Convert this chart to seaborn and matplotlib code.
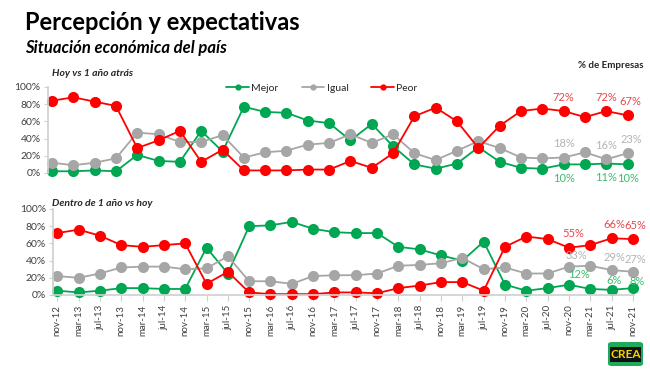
import numpy as np
import pandas as pd
import seaborn as sns
import matplotlib.pyplot as plt
from matplotlib.lines import Line2D
from matplotlib.patches import FancyBboxPatch

# data ---------------------------------------------
fechas = ['nov-12', 'mar-13', 'jul-13', 'nov-13', 'mar-14', 'jul-14', 'nov-14',
          'mar-15', 'jul-15', 'nov-15', 'mar-16', 'jul-16', 'nov-16', 'mar-17',
          'jul-17', 'nov-17', 'mar-18', 'jul-18', 'nov-18', 'mar-19', 'jul-19',
          'nov-19', 'mar-20', 'jul-20', 'nov-20', 'mar-21', 'jul-21', 'nov-21']
series = ['Mejor', 'Igual', 'Peor']

# Hoy vs 1 año atrás
hoy_mejor = [2, 2, 3, 2, 21, 14, 13, 49, 25, 77, 71, 70, 61, 58,
             38, 57, 31, 10, 5, 11, 30, 13, 6, 5, 10, 10, 11, 10]
hoy_igual = [12, 9, 12, 17, 47, 45, 36, 36, 44, 18, 24, 26, 33, 35,
             45, 35, 45, 23, 15, 26, 37, 29, 18, 17, 18, 24, 16, 23]
hoy_peor = [84, 88, 83, 78, 29, 38, 49, 13, 27, 3, 3, 3, 4, 4,
            14, 6, 23, 66, 76, 60, 29, 55, 72, 75, 72, 65, 72, 67]

# Dentro de 1 año vs hoy
fut_mejor = [5, 3, 5, 8, 8, 7, 7, 55, 25, 80, 81, 85, 77, 73,
             72, 72, 56, 53, 46, 40, 62, 12, 5, 8, 12, 7, 6, 8]
fut_igual = [22, 20, 25, 32, 33, 33, 30, 31, 45, 16, 16, 13, 22, 23,
             23, 25, 34, 35, 37, 43, 30, 32, 25, 25, 33, 34, 29, 27]
fut_peor = [72, 76, 69, 58, 56, 58, 60, 13, 27, 3, 1, 1, 1, 3,
            3, 2, 8, 11, 15, 15, 5, 56, 68, 65, 55, 58, 66, 65]

# etiquetas de valor: (serie, indice, dx, dy en puntos)
lab_hoy = [('Peor', 24, 0, 10), ('Peor', 26, 0, 10), ('Peor', 27, 2, 10),
           ('Igual', 24, 0, 10), ('Igual', 26, 0, 10), ('Igual', 27, 3, 10),
           ('Mejor', 24, 0, -10), ('Mejor', 26, 0, -10), ('Mejor', 27, 0, -10)]
lab_fut = [('Peor', 24, 3, 10), ('Peor', 26, 2, 10), ('Peor', 27, 2, 10),
           ('Igual', 24, 5, 8), ('Igual', 26, 2, 9), ('Igual', 27, 2, 9),
           ('Mejor', 24, 7, 7), ('Mejor', 26, 2, 7), ('Mejor', 27, 3, 5)]

palette = {'Mejor': '#00A651', 'Igual': '#A6A6A6', 'Peor': '#FF0000'}
label_col = {'Mejor': '#3DBB6E', 'Igual': '#B4B4B4', 'Peor': '#E8474C'}

sns.set_theme(style='white')
plt.rcParams['font.family'] = ['Lato', 'DejaVu Sans']

W, H = 650, 388
fig = plt.figure(figsize=(6.5, 3.88), dpi=100)
fig.patch.set_facecolor('white')
ax1 = fig.add_axes([47.7 / W, (H - 173) / H, 581 / W, 86 / H])
ax2 = fig.add_axes([53 / W, (H - 295) / H, 581 / W, 86 / H])


def to_long(m, i, p):
    df = pd.DataFrame({'idx': range(len(fechas)), 'Mejor': m, 'Igual': i, 'Peor': p})
    return df.melt(id_vars='idx', var_name='serie', value_name='pct')


for ax, df, labs in [(ax1, to_long(hoy_mejor, hoy_igual, hoy_peor), lab_hoy),
                     (ax2, to_long(fut_mejor, fut_igual, fut_peor), lab_fut)]:
    sns.lineplot(data=df, x='idx', y='pct', hue='serie', hue_order=series,
                 palette=palette, marker='o', markersize=8, markeredgewidth=0,
                 linewidth=1.3, legend=False, clip_on=False, ax=ax)
    ax.set_xlim(-0.2, 27.05)
    ax.set_ylim(0, 100)
    ax.set_yticks(range(0, 101, 20))
    ax.set_yticklabels([f'{v}%' for v in range(0, 101, 20)])
    ax.set_xlabel('')
    ax.set_ylabel('')
    ax.tick_params(axis='y', labelsize=7.5, labelcolor='#404040', length=3,
                   color='#D0D0D0', width=0.8, pad=2, left=True)
    for s in ['top', 'right']:
        ax.spines[s].set_visible(False)
    ax.spines['left'].set_color('#D0D0D0')
    ax.spines['bottom'].set_color('#D0D0D0')
    for serie, i, dx, dy in labs:
        v = df[(df.serie == serie) & (df.idx == i)].pct.iloc[0]
        ax.annotate(f'{v}%', (i, v), xytext=(dx, dy), textcoords='offset points',
                    ha='center', va='center', fontsize=8, color=label_col[serie])

ax1.spines['bottom'].set_visible(False)
ax1.set_xticks([])
ax2.set_xticks(range(len(fechas)))
ax2.set_xticklabels(fechas, rotation=90)
ax2.tick_params(axis='x', labelsize=7, labelcolor='#404040', length=4,
                color='#D0D0D0', width=0.8, pad=3, bottom=True)

# textos ---------------------------------------------
fig.text(25 / W, 1 - 22 / H, 'Percepción y expectativas', fontsize=17,
         fontweight='bold', va='center', color='black')
fig.text(25 / W, 1 - 48 / H, 'Situación económica del país', fontsize=12,
         fontweight='bold', fontstyle='italic', va='center', color='black')
fig.text(52 / W, 1 - 74 / H, 'Hoy vs 1 año atrás', fontsize=7.5,
         fontweight='bold', fontstyle='italic', va='center')
fig.text(52 / W, 1 - 203 / H, 'Dentro de 1 año vs hoy', fontsize=7.5,
         fontweight='bold', fontstyle='italic', va='center')
fig.text(643 / W, 1 - 65 / H, '% de Empresas', fontsize=7,
         fontweight='bold', ha='right', va='center')

handles = [Line2D([0], [0], color=palette[s], marker='o', markersize=4.5,
                  markeredgewidth=0, linewidth=1.3) for s in series]
fig.legend(handles, series, loc='center', bbox_to_anchor=(322 / W, 1 - 88 / H),
           ncol=3, frameon=False, fontsize=7.5, handlelength=2.2,
           handletextpad=0.2, columnspacing=2.2)

# logo CREA
logo = FancyBboxPatch((608 / W, 1 - 366 / H), 35 / W, 24 / H,
                      boxstyle='round,pad=0,rounding_size=0.006',
                      transform=fig.transFigure, facecolor='#1DAA5B',
                      edgecolor='none')
fig.patches.append(logo)
fig.patches.append(plt.Rectangle((610 / W, 1 - 362 / H), 31 / W, 15 / H,
                                 transform=fig.transFigure, facecolor='#111111',
                                 edgecolor='none'))
fig.text(625.5 / W, 1 - 354.5 / H, 'CREA', fontsize=8.5, fontweight='bold',
         color='#F2D600', ha='center', va='center')

fig.savefig('out.png', dpi=100, facecolor='white')
